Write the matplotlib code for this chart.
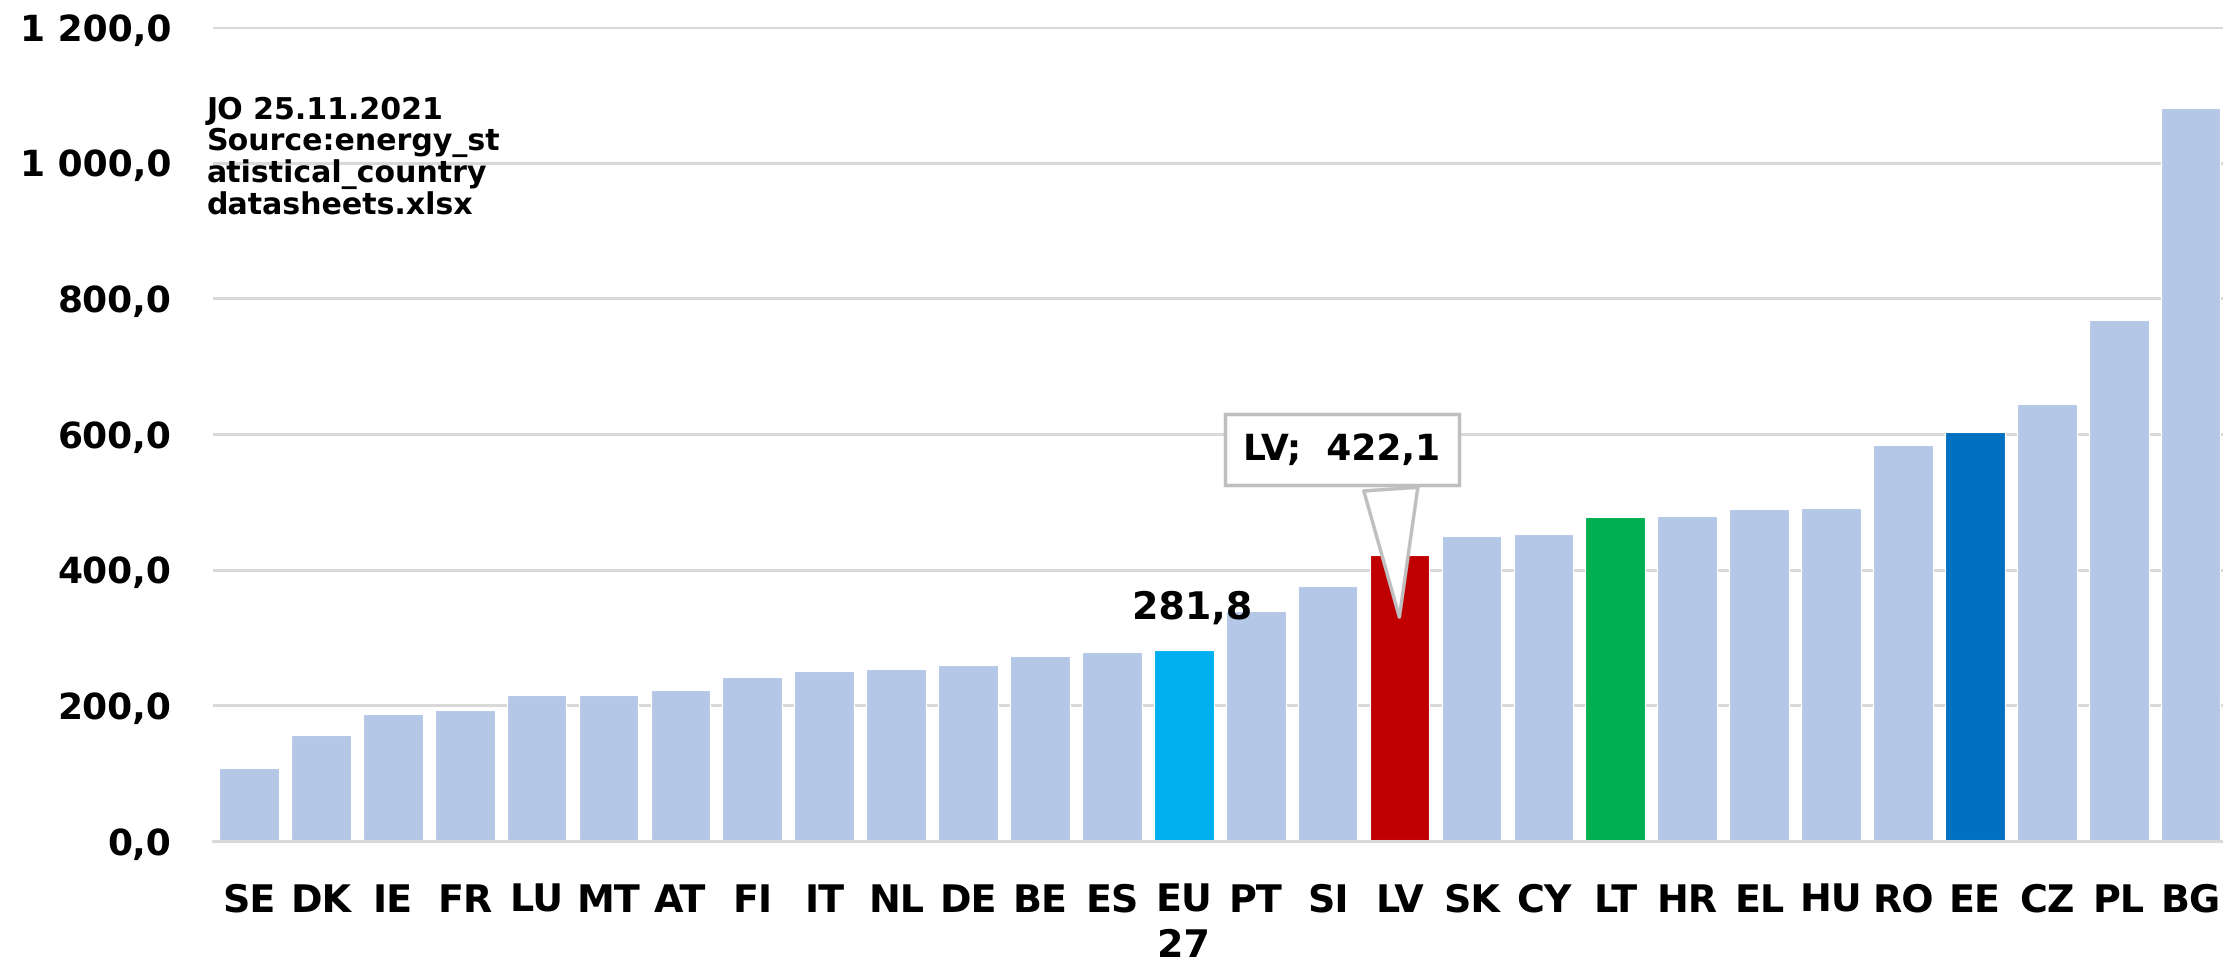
import matplotlib
matplotlib.use("Agg")
import matplotlib.pyplot as plt
from matplotlib.ticker import FuncFormatter

plt.rcParams["text.hinting"] = "no_hinting"
plt.rcParams["text.hinting_factor"] = 1

countries = ["SE", "DK", "IE", "FR", "LU", "MT", "AT", "FI", "IT", "NL", "DE", "BE", "ES",
             "EU\n27", "PT", "SI", "LV", "SK", "CY", "LT", "HR", "EL", "HU", "RO", "EE",
             "CZ", "PL", "BG"]
values = [107.7, 155.6, 187.7, 193.6, 215.8, 215.8, 222.0, 241.5, 250.4, 253.8, 260.2,
          272.6, 279.0, 281.8, 338.6, 376.0, 422.1, 449.5, 452.5, 478.0, 479.0, 489.0,
          491.5, 584.0, 602.5, 645.0, 768.5, 1081.0]
highlight = {"EU\n27": "#00B0F0", "LV": "#C00000", "LT": "#00B050", "EE": "#0070C0"}
base_color = "#B4C7E7"
yticks = [0, 200, 400, 600, 800, 1000, 1200]
note = "JO 25.11.2021\nSource:energy_st\natistical_country\ndatasheets.xlsx"

fig = plt.figure(figsize=(22.23, 9.66), dpi=100)
ax = fig.add_axes([0.0958, 0.1294, 0.9042, 0.972 - 0.1294])

x = list(range(len(countries)))
colors = [highlight.get(c, base_color) for c in countries]
ax.bar(x, values, width=0.83, color=colors, edgecolor="white", linewidth=0.8, zorder=2)

ax.set_xlim(-0.5, 27.45)
ax.set_ylim(0, 1200)
ax.set_yticks(yticks)

def fmt(v, pos):
    s = f"{v:,.1f}".replace(",", " ").replace(".", ",")
    return s
ax.yaxis.set_major_formatter(FuncFormatter(fmt))
ax.grid(axis="y", color="#D9D9D9", linewidth=2.2, zorder=0)
ax.set_axisbelow(True)
for s in ["top", "right", "left"]:
    ax.spines[s].set_visible(False)
ax.spines["bottom"].set_color("#D9D9D9")
ax.spines["bottom"].set_linewidth(2.2)

ax.set_xticks(x)
ax.set_xticklabels(countries, fontsize=27, fontweight="bold", family="DejaVu Sans",
                   linespacing=1.3, va="top")
ax.tick_params(axis="x", length=0, pad=30)
ax.tick_params(axis="y", length=0, pad=30, labelsize=26)
for lab in ax.get_yticklabels():
    lab.set_fontweight("bold")
    lab.set_family("DejaVu Sans")

# EU label
eu_i = countries.index("EU\n27")
ax.annotate(f"{values[eu_i]:.1f}".replace(".", ","), xy=(eu_i, values[eu_i]),
            xytext=(6, 17), textcoords="offset points", ha="center", va="bottom",
            fontsize=27, fontweight="bold", family="DejaVu Sans", zorder=5)

# LV callout
lv_i = countries.index("LV")
ax.annotate(f"LV;  {values[lv_i]:.1f}".replace(".", ","), xy=(lv_i, 326),
            xytext=(lv_i - 0.8, 577), textcoords="data", ha="center", va="center",
            fontsize=26, fontweight="bold", family="DejaVu Sans", zorder=6,
            bbox=dict(boxstyle="square,pad=0.5", fc="white", ec="#BFBFBF", lw=2.5),
            arrowprops=dict(arrowstyle="wedge,tail_width=1.5,shrink_factor=0.5",
                            fc="white", ec="#BFBFBF", lw=2.5, relpos=(0.74, 0.0)))

fig.text(207 / 2223, 1 - 96 / 966, note, ha="left", va="top", fontsize=21.5,
         fontweight="bold", family="DejaVu Sans", linespacing=1.1)

fig.savefig("out.png", dpi=100)
